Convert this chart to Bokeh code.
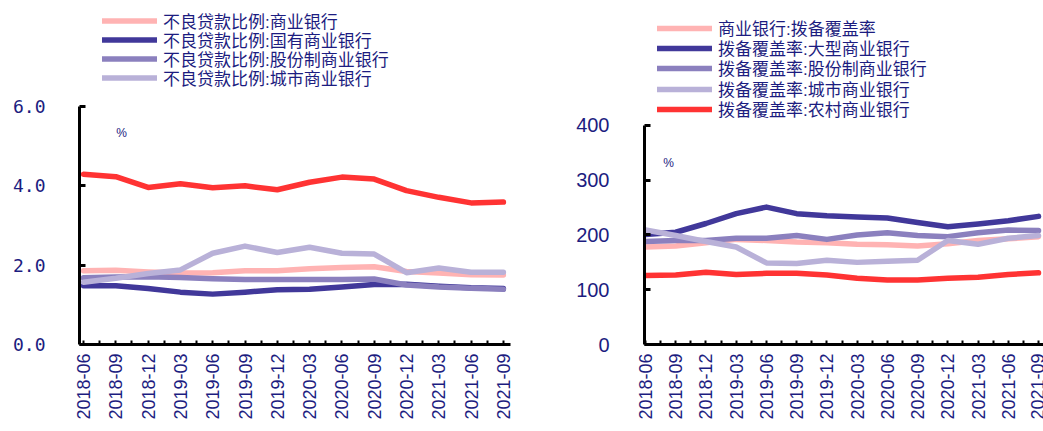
import numpy as np
from bokeh.plotting import figure
from bokeh.layouts import row
from bokeh.models import FixedTicker, Legend, LegendItem, Label, NumeralTickFormatter, Range1d
from bokeh.embed import file_html
from bokeh.resources import INLINE

quarters = ["2018-06", "2018-09", "2018-12", "2019-03", "2019-06", "2019-09", "2019-12",
            "2020-03", "2020-06", "2020-09", "2020-12", "2021-03", "2021-06", "2021-09"]

# Left chart: NPL ratio (%)
npl_names = ["不良贷款比例:商业银行", "不良贷款比例:国有商业银行",
             "不良贷款比例:股份制商业银行", "不良贷款比例:城市商业银行",
             "不良贷款比例:农村商业银行"]
npl_commercial = [1.86, 1.87, 1.83, 1.80, 1.81, 1.86, 1.86, 1.91, 1.94, 1.96, 1.84, 1.80, 1.76, 1.75]
npl_state = [1.48, 1.48, 1.41, 1.32, 1.27, 1.32, 1.38, 1.39, 1.45, 1.51, 1.52, 1.47, 1.43, 1.41]
npl_joint = [1.68, 1.70, 1.71, 1.69, 1.66, 1.64, 1.64, 1.64, 1.64, 1.65, 1.50, 1.45, 1.42, 1.39]
npl_city = [1.57, 1.67, 1.79, 1.88, 2.30, 2.48, 2.32, 2.45, 2.30, 2.28, 1.81, 1.93, 1.82, 1.82]
npl_rural = [4.29, 4.23, 3.96, 4.05, 3.95, 4.00, 3.90, 4.09, 4.22, 4.17, 3.88, 3.71, 3.57, 3.59]

# Right chart: provision coverage ratio (%)
cov_names = ["商业银行:拨备覆盖率", "拨备覆盖率:大型商业银行",
             "拨备覆盖率:股份制商业银行", "拨备覆盖率:城市商业银行",
             "拨备覆盖率:农村商业银行"]
cov_commercial = [178, 180, 186, 192, 190, 187, 186, 183, 182, 180, 184, 190, 193, 197]
cov_large = [201, 205, 221, 239, 251, 239, 235, 233, 231, 223, 215, 220, 226, 234]
cov_joint = [188, 190, 190, 194, 194, 199, 192, 200, 204, 199, 197, 204, 209, 208]
cov_city = [209, 199, 188, 178, 149, 148, 154, 150, 152, 154, 190, 183, 194, 199]
cov_rural = [126, 127, 132, 128, 130, 130, 127, 121, 118, 118, 121, 123, 128, 131]

colors = ["#FFB3B3", "#41389A", "#8B80BE", "#B9B1D8", "#FF3333"]
NAVY = "#1C1C80"
LEG_FONT = "'Liberation Sans', 'Noto Sans CJK SC'"

x = list(range(len(quarters)))


def make_fig(width, border_left, border_right, x_start, x_end, y_end, yticks, yfmt,
             ylab_font, ylab_size, ylab_standoff):
    p = figure(width=width, height=431, output_backend="svg", toolbar_location=None,
               x_range=Range1d(x_start, x_end), y_range=Range1d(0, y_end),
               min_border_left=border_left, min_border_right=border_right,
               min_border_top=0, min_border_bottom=87)
    p.outline_line_color = None
    p.xgrid.visible = False
    p.ygrid.visible = False
    p.background_fill_color = "white"
    p.border_fill_color = "white"

    xa = p.xaxis[0]
    xa.ticker = FixedTicker(ticks=x, minor_ticks=[i + 0.5 for i in range(-1, len(x))])
    xa.major_label_overrides = {i: q for i, q in enumerate(quarters)}
    xa.major_label_orientation = np.pi / 2
    xa.axis_line_width = 3
    xa.axis_line_color = "black"
    xa.major_tick_in = 4
    xa.major_tick_out = 0
    xa.minor_tick_in = 4
    xa.minor_tick_out = 0
    xa.major_tick_line_width = 2
    xa.minor_tick_line_width = 2
    xa.major_label_standoff = 9
    xa.major_label_text_font = "Liberation Sans"
    xa.major_label_text_font_size = "18px"
    xa.major_label_text_color = NAVY

    ya = p.yaxis[0]
    ya.ticker = FixedTicker(ticks=yticks, minor_ticks=[])
    ya.formatter = NumeralTickFormatter(format=yfmt)
    ya.bounds = (0, max(yticks))
    ya.axis_line_width = 3
    ya.axis_line_color = "black"
    ya.major_tick_in = 6
    ya.major_tick_out = 0
    ya.minor_tick_in = 0
    ya.minor_tick_out = 0
    ya.major_tick_line_width = 3
    ya.major_label_standoff = ylab_standoff
    ya.major_label_text_font = ylab_font
    ya.major_label_text_font_size = ylab_size
    ya.major_label_text_color = NAVY
    return p


def add_legends(p, renderers, names, vx, vys, h):
    for r, name, vy in zip(renderers, names, vys):
        leg = Legend(items=[LegendItem(label=name, renderers=[r])], location=(vx, vy),
                     orientation="vertical", padding=0, margin=0, spacing=0,
                     glyph_width=55, glyph_height=h, label_height=h, label_standoff=6,
                     border_line_color=None, background_fill_alpha=0,
                     label_text_font=LEG_FONT, label_text_font_size="17px",
                     label_text_color=NAVY)
        p.add_layout(leg, "center")


# ---------- left ----------
left = make_fig(520, 79, 10, -0.124, 13.22, 8.672, [0, 2, 4, 6], "0.0",
                "DejaVu Sans Mono", "18px", 34)
left_series = [npl_commercial, npl_state, npl_joint, npl_city, npl_rural]
left_r = []
for s, c in zip(left_series, colors):
    left_r.append(left.line(x, s, line_color=c, line_width=5.5, line_cap="round", line_join="round"))
add_legends(left, left_r[:4], npl_names[:4], 23, [311.5, 292.5, 273.5, 254.5], 19)
left.add_layout(Label(x=1.18, y=5.34, text="%", text_font="Liberation Sans", text_font_size="12px",
                      text_color=NAVY, text_align="center", text_baseline="middle"))

# ---------- right ----------
right = make_fig(523, 124, 0, -0.033, 13.165, 628.3, [0, 100, 200, 300, 400], "0",
                 "Liberation Sans", "20px", 35)
right_series = [cov_commercial, cov_large, cov_joint, cov_city, cov_rural]
right_r = []
for s, c in zip(right_series, colors):
    right_r.append(right.line(x, s, line_color=c, line_width=5.5, line_cap="round", line_join="round"))
add_legends(right, right_r, cov_names, 13, [304, 284, 264, 243, 223], 20)
right.add_layout(Label(x=0.76, y=330.6, text="%", text_font="Liberation Sans", text_font_size="12px",
                       text_color=NAVY, text_align="center", text_baseline="middle"))

layout = row(left, right, spacing=0)
open("out.html", "w").write(file_html(layout, INLINE))
